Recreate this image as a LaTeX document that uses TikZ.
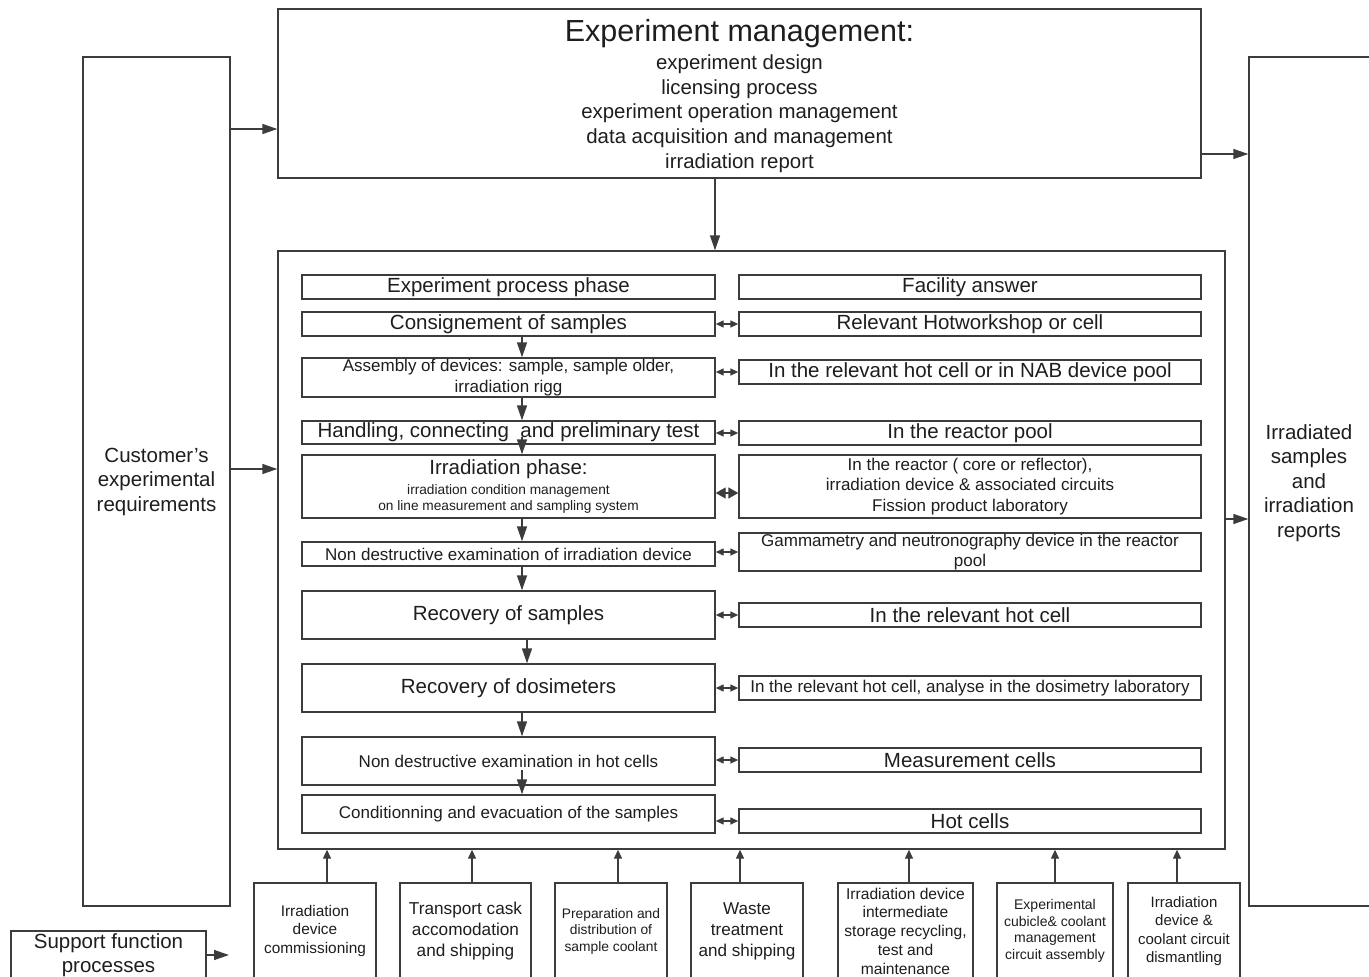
\documentclass[tikz,border=0pt]{standalone}
\usepackage{fontspec}
\setmainfont{Liberation Sans}
\usetikzlibrary{arrows.meta}
\definecolor{ln}{HTML}{3C3C3C}
\definecolor{tx}{HTML}{1E1E1E}
\newcommand\mybox[7]{\node[box,#6,minimum width={#4-#2},minimum height={#5-#3}] (#1) at ({(#2+#4)/2},{(#3+#5)/2}) {#7};}
\begin{document}
\begin{tikzpicture}[x=1pt,y=-1pt,
  box/.style={draw=ln,line width=1.4pt,inner sep=0pt,align=center,text=tx},
  fA/.style={font=\fontsize{20.5}{24.5}\selectfont},
  fB/.style={font=\fontsize{17}{20.3}\selectfont},
  arr/.style={draw=ln,line width=1.4pt,-{Triangle[length=15pt,width=10pt]}},
  uarr/.style={draw=ln,line width=1.4pt,-{Triangle[length=9pt,width=8pt]}},
  dbl/.style={draw=ln,line width=1.4pt,{Triangle[length=8pt,width=7pt]}-{Triangle[length=8pt,width=7pt]}},
  dblb/.style={draw=ln,line width=1.4pt,{Triangle[length=10pt,width=11pt]}-{Triangle[length=10pt,width=11pt]}}
]
\clip (0,0) rectangle (1369,977);
\fill[white] (0,0) rectangle (1369,977);

% outer boxes
\mybox{top}{278}{9}{1201}{178}{}{}
\node[align=center,text=tx,inner sep=0pt,font=\fontsize{20.4}{24.75}\selectfont] (toptext) at (739.5,96)
  {{\fontsize{30.5}{34}\selectfont Experiment management:}\\[3pt]
   experiment design\\ licensing process\\ experiment operation management\\
   data acquisition and management\\ irradiation report};
\mybox{cust}{83}{57}{230}{906}{fA}{Customer’s\\experimental\\requirements}
\mybox{res}{1249}{57}{1396}{906}{}{}
\node[fA,align=center,text=tx] (restext) at (1309,483) {Irradiated\\samples\\and\\irradiation\\reports};
\mybox{inner}{278}{251}{1225}{849}{}{}

% left column
\mybox{L1}{302}{275}{715}{299}{fA}{Experiment process phase}
\mybox{L2}{302}{312}{715}{336}{fA}{Consignement of samples}
\mybox{L3}{302}{358}{715}{397}{fB}{Assembly of devices: sample, sample older,\\irradiation rigg}
\mybox{L4}{302}{421}{715}{444}{fA}{Handling, connecting\ \ and preliminary test}
\mybox{L5}{302}{455}{715}{518}{font=\fontsize{13.7}{16}\selectfont}{{\fontsize{20.5}{24}\selectfont Irradiation phase:}\\[4pt]irradiation condition management\\on line measurement and sampling system}
\mybox{L6}{302}{542}{715}{566}{fB}{Non destructive examination of irradiation device}
\mybox{L7}{302}{591}{715}{639}{fA}{Recovery of samples}
\mybox{L8}{302}{664}{715}{712}{fA}{Recovery of dosimeters}
\mybox{L9}{302}{737}{715}{785}{fB}{Non destructive examination in hot cells}
\mybox{L10}{302}{795}{715}{833}{fB}{Conditionning and evacuation of the samples}

% right column
\mybox{R1}{739}{275}{1201}{299}{fA}{Facility answer}
\mybox{R2}{739}{312}{1201}{336}{fA}{Relevant Hotworkshop or cell}
\mybox{R3}{739}{360}{1201}{384}{fA}{In the relevant hot cell or in NAB device pool}
\mybox{R4}{739}{421}{1201}{445}{fA}{In the reactor pool}
\mybox{R5}{739}{455}{1201}{518}{font=\fontsize{17}{20.5}\selectfont}{In the reactor ( core or reflector),\\irradiation device \& associated circuits\\Fission product laboratory}
\mybox{R6}{739}{533}{1201}{571}{fB}{Gammametry and neutronography device in the reactor\\pool}
\mybox{R7}{739}{603}{1201}{627}{fA}{In the relevant hot cell}
\mybox{R8}{739}{676}{1201}{700}{fB}{In the relevant hot cell, analyse in the dosimetry laboratory}
\mybox{R9}{739}{748}{1201}{772}{fA}{Measurement cells}
\mybox{R10}{739}{809}{1201}{833}{fA}{Hot cells}

% bottom boxes
\mybox{sup}{11}{931}{206}{979}{font=\fontsize{20.5}{24}\selectfont}{Support function\\processes}
\mybox{B1}{254}{883}{376}{979}{font=\fontsize{15.4}{18.5}\selectfont}{Irradiation\\device\\commissioning}
\mybox{B2}{400}{883}{531}{979}{font=\fontsize{17.2}{21}\selectfont}{Transport cask\\accomodation\\and shipping}
\mybox{B3}{555}{883}{667}{979}{font=\fontsize{13.8}{16.5}\selectfont}{Preparation and\\distribution of\\sample coolant}
\mybox{B4}{691}{883}{803}{979}{font=\fontsize{17.1}{21}\selectfont}{Waste\\treatment\\and shipping}
\mybox{B5}{838}{883}{973}{979}{font=\fontsize{15.6}{18.75}\selectfont}{Irradiation device\\intermediate\\storage recycling,\\test and\\maintenance}
\mybox{B6}{997}{883}{1113}{979}{font=\fontsize{14}{16.5}\selectfont}{Experimental\\cubicle\& coolant\\management\\circuit assembly}
\mybox{B7}{1128}{883}{1240}{979}{font=\fontsize{15}{18.5}\selectfont}{Irradiation\\device \&\\coolant circuit\\dismantling}

% helper coordinates
\coordinate (c715) at (715,0);
\coordinate (y129) at (0,129);
\coordinate (y469) at (0,469);
\coordinate (y154) at (0,154);
\coordinate (y519) at (0,519);
\coordinate (ax) at (522,0);
\coordinate (bx) at (527,0);
\coordinate (supend) at (229,955);

% main arrows
\draw[arr] (c715 |- top.south) -- (c715 |- inner.north);
\draw[arr] (cust.east |- y129) -- (top.west |- y129);
\draw[arr] (cust.east |- y469) -- (inner.west |- y469);
\draw[arr] (top.east |- y154) -- (res.west |- y154);
\draw[arr] (inner.east |- y519) -- (res.west |- y519);
\draw[arr] (sup.east) -- (supend);

% left column flow
\draw[arr] (ax |- L2.south) -- (ax |- L3.north);
\draw[arr] (ax |- L3.south) -- (ax |- L4.north);
\draw[arr] ([yshift=-4pt]ax |- L4.center) -- (ax |- L5.north);
\draw[arr] (ax |- L5.south) -- (ax |- L6.north);
\draw[arr] (ax |- L6.south) -- (ax |- L7.north);
\draw[arr] (bx |- L7.south) -- (bx |- L8.north);
\draw[arr] (ax |- L8.south) -- (ax |- L9.north);
\draw[arr] ([yshift=-9pt]ax |- L9.center) -- (ax |- L10.north);

% double arrows
\draw[dbl] (R2.west -| L2.east) -- (R2.west);
\draw[dbl] (R3.west -| L3.east) -- (R3.west);
\draw[dbl] (R4.west -| L4.east) -- (R4.west);
\draw[dblb] ([yshift=-6.5pt]R5.west -| L5.east) -- ([yshift=-6.5pt]R5.west);
\draw[dbl] (R6.west -| L6.east) -- (R6.west);
\draw[dbl] (R7.west -| L7.east) -- (R7.west);
\draw[dbl] (R8.west -| L8.east) -- (R8.west);
\draw[dbl] (R9.west -| L9.east) -- (R9.west);
\draw[dbl] (R10.west -| L10.east) -- (R10.west);

% support arrows
\draw[uarr] ([xshift=12pt]B1.north) -- ([xshift=12pt]B1.north |- inner.south);
\draw[uarr] ([xshift=6.5pt]B2.north) -- ([xshift=6.5pt]B2.north |- inner.south);
\draw[uarr] ([xshift=7pt]B3.north) -- ([xshift=7pt]B3.north |- inner.south);
\draw[uarr] ([xshift=-7pt]B4.north) -- ([xshift=-7pt]B4.north |- inner.south);
\draw[uarr] ([xshift=3.5pt]B5.north) -- ([xshift=3.5pt]B5.north |- inner.south);
\draw[uarr] (B6.north) -- (B6.north |- inner.south);
\draw[uarr] ([xshift=-7pt]B7.north) -- ([xshift=-7pt]B7.north |- inner.south);
\end{tikzpicture}
\end{document}
